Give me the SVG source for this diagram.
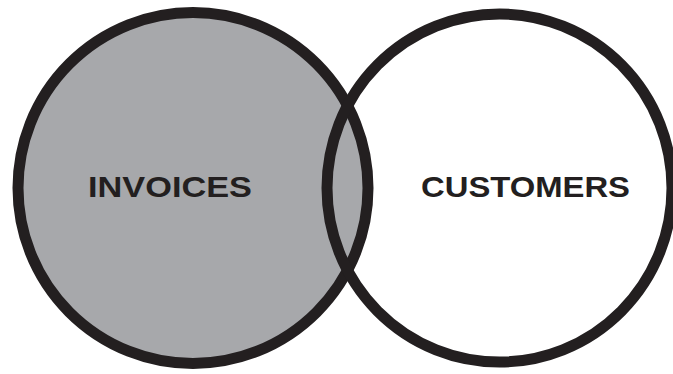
<svg xmlns="http://www.w3.org/2000/svg" width="673" height="374" viewBox="0 0 673 374">
  <style>
    .ring { fill: none; stroke: #231f20; stroke-width: 11; }
    .label { font-family: "Liberation Sans", Arial, sans-serif; font-weight: bold; font-size: 30px; fill: #231f20; }
  </style>
  <rect width="673" height="374" fill="#ffffff"/>
  <g id="invoices">
    <ellipse cx="193" cy="188" rx="175" ry="175.5" fill="#a7a8ab"/>
    <ellipse class="ring" cx="193" cy="188" rx="175" ry="175.5"/>
    <text class="label" x="88" y="197" textLength="164" lengthAdjust="spacingAndGlyphs">INVOICES</text>
  </g>
  <g id="customers">
    <ellipse class="ring" cx="499.5" cy="188" rx="172.5" ry="174"/>
    <text class="label" x="421" y="197" textLength="209" lengthAdjust="spacingAndGlyphs">CUSTOMERS</text>
  </g>
  <g id="connectors"></g>
</svg>
